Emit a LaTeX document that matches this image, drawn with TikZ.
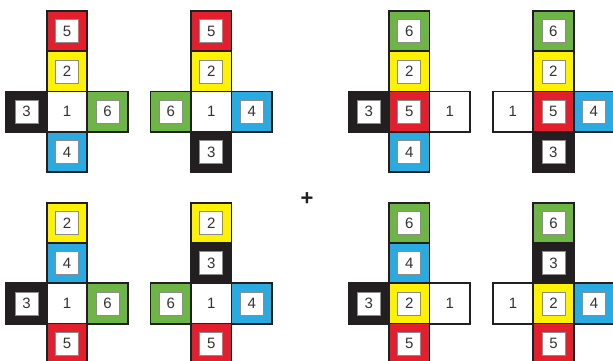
\documentclass[tikz,border=0pt]{standalone}
\usepackage{fontspec}
\setmainfont{Liberation Sans}
\definecolor{cred}{HTML}{E31E2D}
\definecolor{cyel}{HTML}{FFF200}
\definecolor{cgrn}{HTML}{6DB544}
\definecolor{cblu}{HTML}{29ABE2}
\definecolor{cblk}{HTML}{231F20}
\definecolor{ctxt}{HTML}{333333}
\tikzset{
  face/.style={draw=cblk, line width=1.8pt, minimum size=40.5pt, inner sep=0pt, font=\fontsize{15}{15}\selectfont, text=ctxt},
  numbox/.style={draw=black!45, line width=0.5pt, fill=white, minimum size=23pt, inner sep=0pt, font=\fontsize{15}{15}\selectfont, text=ctxt},
}
\newcommand\cf[4]{\node[face,fill=#3] (#1) at (#2) {}; \node[numbox] (#1n) at (#1) {#4};}
\newcommand\wf[3]{\node[face,fill=white] (#1) at (#2) {#3};}
\begin{document}
\begin{tikzpicture}[x=1pt,y=-1pt]
\useasboundingbox (0,0) rectangle (613,361);
% Net 1
\begin{scope}[shift={(67,31.2)}]
\cf{a0}{0,0}{cred}{5}
\cf{a1}{0,40.3}{cyel}{2}
\cf{aL}{-40.5,80.6}{cblk}{3}
\wf{aC}{0,80.6}{1}
\cf{aR}{40.5,80.6}{cgrn}{6}
\cf{a3}{0,120.9}{cblu}{4}
\end{scope}
% Net 2
\begin{scope}[shift={(211.2,31.2)}]
\cf{b0}{0,0}{cred}{5}
\cf{b1}{0,40.3}{cyel}{2}
\cf{bL}{-40.5,80.6}{cgrn}{6}
\wf{bC}{0,80.6}{1}
\cf{bR}{40.5,80.6}{cblu}{4}
\cf{b3}{0,120.9}{cblk}{3}
\end{scope}
% Net 3
\begin{scope}[shift={(409.2,31.2)}]
\cf{c0}{0,0}{cgrn}{6}
\cf{c1}{0,40.3}{cyel}{2}
\cf{cL}{-40.5,80.6}{cblk}{3}
\cf{cC}{0,80.6}{cred}{5}
\wf{cR}{40.5,80.6}{1}
\cf{c3}{0,120.9}{cblu}{4}
\end{scope}
% Net 4
\begin{scope}[shift={(553.4,31.2)}]
\cf{d0}{0,0}{cgrn}{6}
\cf{d1}{0,40.3}{cyel}{2}
\wf{dL}{-40.5,80.6}{1}
\cf{dC}{0,80.6}{cred}{5}
\cf{dR}{40.5,80.6}{cblu}{4}
\cf{d3}{0,120.9}{cblk}{3}
\end{scope}
% Net 5
\begin{scope}[shift={(67,222.9)}]
\cf{e0}{0,0}{cyel}{2}
\cf{e1}{0,40.3}{cblu}{4}
\cf{eL}{-40.5,80.6}{cblk}{3}
\wf{eC}{0,80.6}{1}
\cf{eR}{40.5,80.6}{cgrn}{6}
\cf{e3}{0,120.9}{cred}{5}
\end{scope}
% Net 6
\begin{scope}[shift={(211.2,222.9)}]
\cf{f0}{0,0}{cyel}{2}
\cf{f1}{0,40.3}{cblk}{3}
\cf{fL}{-40.5,80.6}{cgrn}{6}
\wf{fC}{0,80.6}{1}
\cf{fR}{40.5,80.6}{cblu}{4}
\cf{f3}{0,120.9}{cred}{5}
\end{scope}
% Net 7
\begin{scope}[shift={(409.2,222.9)}]
\cf{g0}{0,0}{cgrn}{6}
\cf{g1}{0,40.3}{cblu}{4}
\cf{gL}{-40.5,80.6}{cblk}{3}
\cf{gC}{0,80.6}{cyel}{2}
\wf{gR}{40.5,80.6}{1}
\cf{g3}{0,120.9}{cred}{5}
\end{scope}
% Net 8
\begin{scope}[shift={(553.6,222.9)}]
\cf{h0}{0,0}{cgrn}{6}
\cf{h1}{0,40.3}{cblk}{3}
\wf{hL}{-40.5,80.6}{1}
\cf{hC}{0,80.6}{cyel}{2}
\cf{hR}{40.5,80.6}{cblu}{4}
\cf{h3}{0,120.9}{cred}{5}
\end{scope}
% plus sign
\node[font=\bfseries\fontsize{22}{22}\selectfont, text=cblk, inner sep=0pt] (plus) at (307,199) {+};
\end{tikzpicture}
\end{document}
